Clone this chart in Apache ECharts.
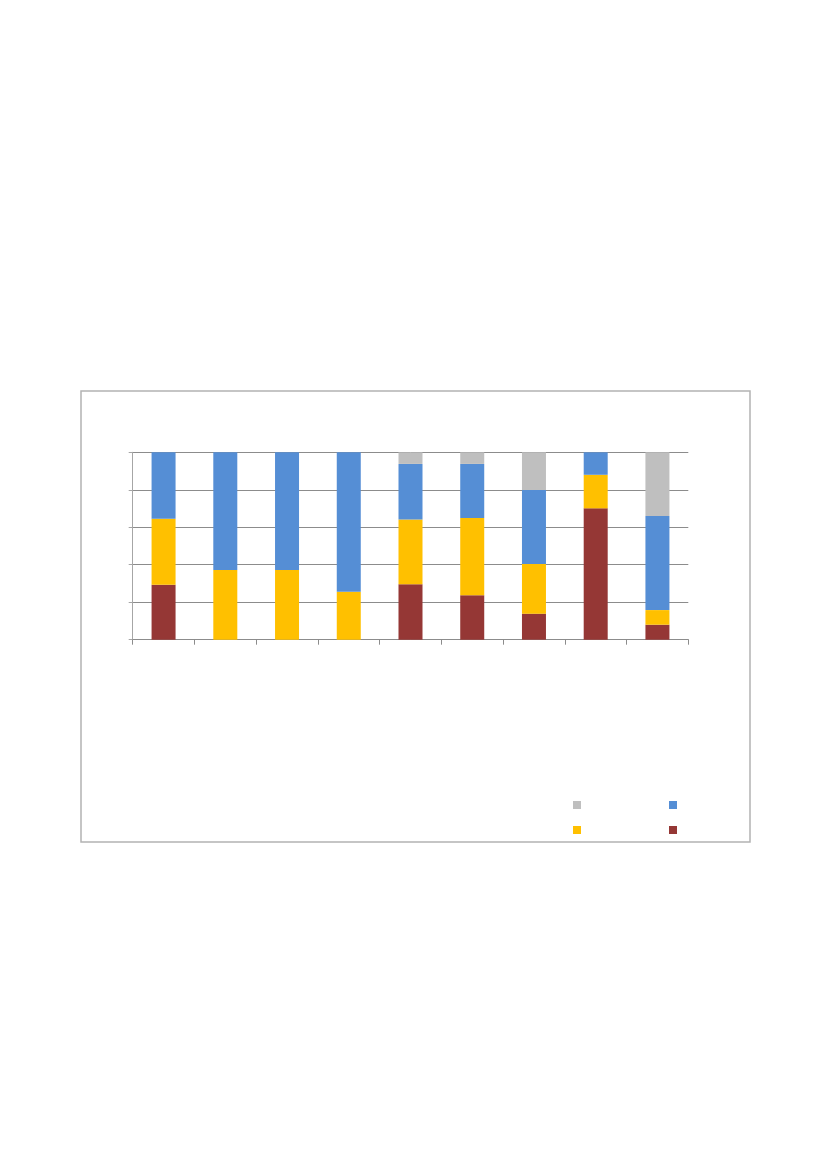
<!DOCTYPE html>
<html><head><meta charset="utf-8">
<script src="https://cdn.jsdelivr.net/npm/echarts@6/dist/echarts.min.js"></script>
<style>html,body{margin:0;padding:0;background:#fff}#c{width:827px;height:1169px}</style>
</head><body><div id="c"></div>
<script>
const categories = ['1','2','3','4','5','6','7','8','9'];
const seriesRed    = [29.3, 0, 0, 0, 29.6, 23.7, 13.9, 70.1, 8.0];
const seriesYellow = [35.3, 37.2, 37.2, 25.6, 34.6, 41.2, 26.5, 17.9, 7.8];
const seriesBlue   = [35.4, 62.8, 62.8, 74.4, 29.6, 28.9, 39.5, 12.0, 50.2];
const seriesGrey   = [0, 0, 0, 0, 6.2, 6.2, 20.1, 0, 34.0];
const seriesNames  = ['A', 'B', 'C', 'D'];
const yTicks = [0, 20, 40, 60, 80, 100];

const colors = {A:'#953735', B:'#FFC000', C:'#558ED5', D:'#BFBFBF'};
const chart = echarts.init(document.getElementById('c'), null, {renderer:'canvas'});
function mk(name, data){
  return {name, type:'bar', stack:'s', data, barWidth:24,
    itemStyle:{color:colors[name]}, emphasis:{disabled:true}};
}
function leg(name, left, top){
  return {data:[name], left, top, itemWidth:8, itemHeight:8, icon:'rect',
    formatter:()=>'', textStyle:{fontSize:1}, selectedMode:false, padding:0};
}
chart.setOption({
  animation:false,
  graphic:[{type:'rect', shape:{x:81, y:391, width:669, height:451},
    style:{fill:'none', stroke:'#b3b3b3', lineWidth:1.5}, z:-1}],
  grid:{left:132.7, right:138.7, top:452.3, bottom:529.3},
  legend:[leg('D',573,801), leg('C',669,801), leg('B',573,826), leg('A',669,826)],
  xAxis:{type:'category', data:categories,
    axisLine:{lineStyle:{color:'#8c8c8c', width:1}},
    axisTick:{show:true, length:5, lineStyle:{color:'#8c8c8c'}},
    axisLabel:{show:false}},
  yAxis:{type:'value', min:yTicks[0], max:yTicks[yTicks.length-1], interval:20,
    axisLine:{show:true, lineStyle:{color:'#a6a6a6'}},
    axisTick:{show:true, length:4, lineStyle:{color:'#a6a6a6'}},
    axisLabel:{show:false},
    splitLine:{lineStyle:{color:'#8c8c8c', width:1}}},
  series:[mk('A',seriesRed), mk('B',seriesYellow), mk('C',seriesBlue), mk('D',seriesGrey)]
});
</script></body></html>
